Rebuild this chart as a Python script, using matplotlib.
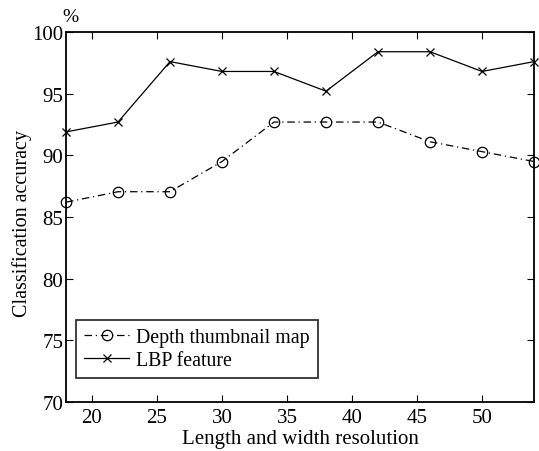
import matplotlib
matplotlib.use("Agg")
import matplotlib.pyplot as plt

# resolution values and accuracies (%)
resolution = [18, 22, 26, 30, 34, 38, 42, 46, 50, 54]
depth_acc = [86.2, 87.05, 87.05, 89.5, 92.7, 92.7, 92.7, 91.1, 90.3, 89.5]
lbp_acc = [91.9, 92.7, 97.6, 96.8, 96.8, 95.2, 98.4, 98.4, 96.8, 97.6]

x_ticks = [20, 25, 30, 35, 40, 45, 50]
y_ticks = [70, 75, 80, 85, 90, 95, 100]

plt.rcParams['font.family'] = ['Liberation Serif', 'DejaVu Serif']

fig = plt.figure(figsize=(5.39, 4.52), dpi=100)
ax = fig.add_axes([66 / 539, 1 - 403 / 452, (534 - 66) / 539, (403 - 33) / 452])

ax.plot(resolution, depth_acc, color='black', linestyle=(0, (6, 3, 1, 3)), linewidth=0.9,
        marker='o', markersize=7.5, markerfacecolor='none', markeredgewidth=0.9,
        label='Depth thumbnail map', clip_on=False)
ax.plot(resolution, lbp_acc, color='black', linestyle='-', linewidth=0.9,
        marker='x', markersize=6, markeredgewidth=0.9,
        label='LBP feature', clip_on=False)

ax.set_xlim(18, 54)
ax.set_ylim(70, 100)
ax.set_xticks(x_ticks)
ax.set_yticks(y_ticks)
ax.tick_params(direction='in', top=True, right=True, length=5, width=0.8,
               labelsize=15)
ax.tick_params(axis='y', pad=2)
ax.tick_params(axis='x', pad=4)
for s in ax.spines.values():
    s.set_linewidth(1.3)

ax.set_xlabel('Length and width resolution', fontsize=15, labelpad=2)
ax.set_ylabel('Classification accuracy', fontsize=14.5)
ax.yaxis.set_label_coords(-0.073, 0.485)
ax.text(-0.008, 1.018, '%', transform=ax.transAxes, fontsize=14,
        ha='left', va='bottom')

leg = ax.legend(loc='lower left', bbox_to_anchor=(0.021, 0.065), fontsize=14.3,
                frameon=True, fancybox=False, edgecolor='black',
                handlelength=2.3, borderpad=0.4, labelspacing=0.2,
                handletextpad=0.35, borderaxespad=0)
leg.get_frame().set_linewidth(1.3)

fig.savefig('out.png', dpi=100)
